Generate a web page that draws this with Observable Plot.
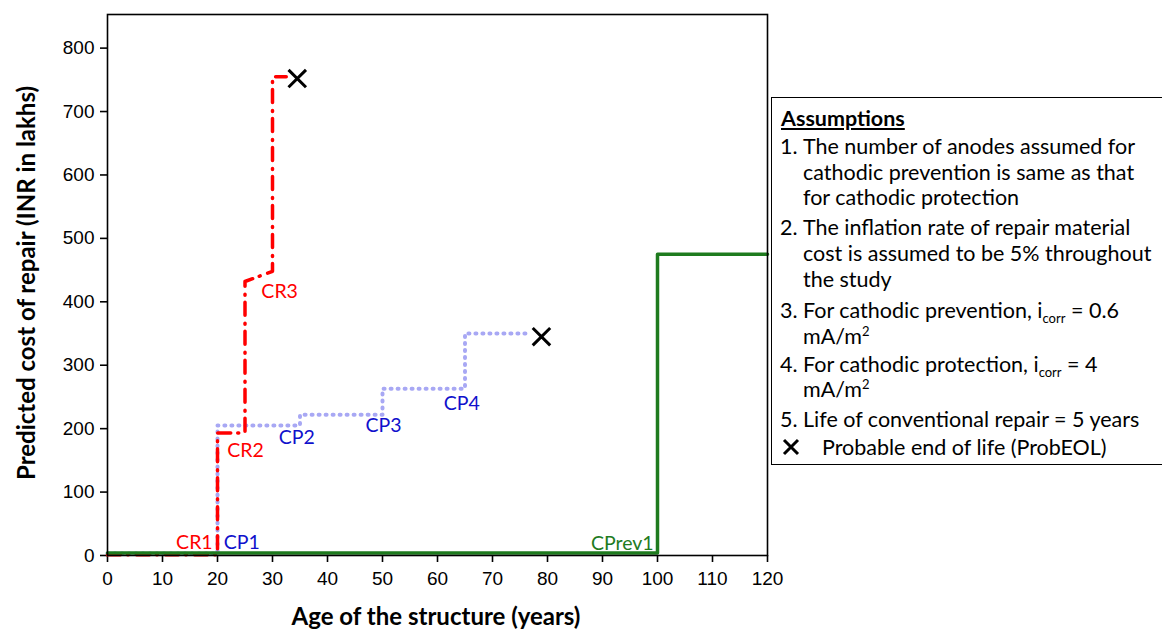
<!DOCTYPE html>
<html>
<head>
<meta charset="utf-8">
<script src="https://cdn.jsdelivr.net/npm/d3@7"></script>
<script src="https://cdn.jsdelivr.net/npm/@observablehq/plot@0.6"></script>
<style>
  html, body { margin: 0; padding: 0; background: #fff; }
  #wrap { position: relative; width: 1162px; height: 630px; overflow: hidden; }
  .ttl { position: absolute; font-family: Lato, "Open Sans", sans-serif; font-weight: bold; font-size: 24px; color: #000; white-space: nowrap; }
  #legend { position: absolute; left: 771px; top: 97px; width: 420px; height: 368px; border: 1px solid #000; background: #fff; box-sizing: border-box; }
  .ln { position: absolute; font-family: Lato, "Open Sans", sans-serif; font-size: 21.5px; line-height: 26px; height: 26px; white-space: nowrap; color: #000; }
  sub, sup { font-size: 13px; line-height: 0; }
</style>
</head>
<body>
<div id="wrap"></div>
<script>
// ---- data ----
const crYears = [0, 20, 20, 25, 25, 30, 30, 32.5];
const crCost  = [1, 1, 193, 193, 432, 448, 755, 755];

const cpYears = [0, 20, 20, 35, 35, 50, 50, 65, 65, 77];
const cpCost  = [3, 3, 205, 205, 222, 222, 263, 263, 350, 350];

const cprevYears = [0, 100, 100, 120];
const cprevCost  = [4, 4, 475, 475];

const eolYears = [34.5, 78.9];
const eolCost  = [752, 345];

const labelText  = ["CR1", "CP1", "CR2", "CP2", "CP3", "CP4", "CR3", "CPrev1"];
const labelYears = [15.8, 24.4, 25.1, 34.4, 50.2, 64.4, 31.3, 93.6];
const labelCost  = [20.5, 20.5, 165.6, 186, 205, 240, 416, 19];
const labelColor = ["#ff0000", "#1010cc", "#ff0000", "#1010cc", "#1010cc", "#1010cc", "#ff0000", "#1e7b1e"];

const xTicks = d3.range(0, 121, 10);
const yTicks = d3.range(0, 801, 100);

const legendLines = [
  {num: "", text: "<b><u>Assumptions</u></b>", y: 118},
  {num: "1.", text: "The number of anodes assumed for", y: 146},
  {num: "", text: "cathodic prevention is same as that", y: 172},
  {num: "", text: "for cathodic protection", y: 197},
  {num: "2.", text: "The inflation rate of repair material", y: 227},
  {num: "", text: "cost is assumed to be 5% throughout", y: 253},
  {num: "", text: "the study", y: 279},
  {num: "3.", text: "For cathodic prevention, i<sub>corr</sub> = 0.6", y: 310},
  {num: "", text: "mA/m<sup>2</sup>", y: 336},
  {num: "4.", text: "For cathodic protection, i<sub>corr</sub> = 4", y: 364},
  {num: "", text: "mA/m<sup>2</sup>", y: 389},
  {num: "5.", text: "Life of conventional repair = 5 years", y: 419},
  {num: "X", text: "Probable end of life (ProbEOL)", y: 447}
];

// ---- build tables ----
const cr = crYears.map((x, i) => ({x, y: crCost[i]}));
const cp = cpYears.map((x, i) => ({x, y: cpCost[i]}));
const cprev = cprevYears.map((x, i) => ({x, y: cprevCost[i]}));
const eol = eolYears.map((x, i) => ({x, y: eolCost[i]}));
const labels = labelText.map((t, i) => ({t, x: labelYears[i], y: labelCost[i], c: labelColor[i]}));

const chart = Plot.plot({
  width: 1162,
  height: 630,
  marginLeft: 107,
  marginRight: 395,
  marginTop: 14,
  marginBottom: 75,
  style: {fontFamily: "'Liberation Sans', Arial, sans-serif", fontSize: "19px", color: "#000", background: "transparent"},
  x: {domain: [0, 120], label: null},
  y: {domain: [0, 853], label: null},
  marks: [
    Plot.axisX({ticks: xTicks, tickSize: 7, tickPadding: 9, label: null, fontSize: 19, strokeWidth: 1.6}),
    Plot.axisY({ticks: yTicks, tickSize: 7, tickPadding: 6, label: null, fontSize: 19, strokeWidth: 1.6}),
    Plot.line(cp, {x: "x", y: "y", stroke: "#a8a8f4", strokeWidth: 4, strokeDasharray: "1,6"}),
    Plot.line(cr, {x: "x", y: "y", stroke: "#ff0000", strokeWidth: 3.5, strokeDasharray: "13,7,1,8"}),
    Plot.line(cprev, {x: "x", y: "y", stroke: "#1e7b1e", strokeWidth: 3.5}),
    Plot.dot(eol, {x: "x", y: "y", symbol: "times", r: 8, stroke: "#000", strokeWidth: 3}),
    Plot.text(labels, {x: "x", y: "y", text: "t", fill: "c", fontSize: 19.5, fontFamily: "Lato, 'Open Sans', sans-serif"}),
    Plot.frame({stroke: "#000", strokeWidth: 1.6})
  ]
});

// enlarge tick label font (axis groups)
chart.querySelectorAll('[aria-label*="axis"]').forEach(g => {
  g.setAttribute("font-size", "19");
  g.style.fontSize = "19px";
  g.querySelectorAll("text").forEach(t => { t.style.fontSize = "19px"; });
});

const wrap = document.getElementById("wrap");
chart.style.position = "absolute";
chart.style.left = "0px";
chart.style.top = "0px";
wrap.appendChild(chart);

// axis titles
const xt = document.createElement("div");
xt.className = "ttl";
xt.textContent = "Age of the structure (years)";
xt.style.left = "436px"; xt.style.top = "615px";
xt.style.transform = "translate(-50%, -50%)";
wrap.appendChild(xt);

const yt = document.createElement("div");
yt.className = "ttl";
yt.textContent = "Predicted cost of repair (INR in lakhs)";
yt.style.left = "25px"; yt.style.top = "283px";
yt.style.transform = "translate(-50%, -50%) rotate(-90deg)";
wrap.appendChild(yt);

// assumptions box
const lg = document.createElement("div");
lg.id = "legend";
wrap.appendChild(lg);
for (const l of legendLines) {
  if (l.num === "X") {
    const s = document.createElementNS("http://www.w3.org/2000/svg", "svg");
    s.setAttribute("width", 20); s.setAttribute("height", 20);
    s.style.position = "absolute"; s.style.left = "781px"; s.style.top = (l.y - 10) + "px";
    s.innerHTML = '<path d="M3,3L17,17M17,3L3,17" stroke="#000" stroke-width="3"/>';
    wrap.appendChild(s);
    const t = document.createElement("div");
    t.className = "ln"; t.innerHTML = l.text;
    t.style.left = "822px"; t.style.top = (l.y - 13) + "px";
    wrap.appendChild(t);
    continue;
  }
  if (l.num) {
    const n = document.createElement("div");
    n.className = "ln"; n.textContent = l.num;
    n.style.left = "780px"; n.style.top = (l.y - 13) + "px";
    wrap.appendChild(n);
  }
  const t = document.createElement("div");
  t.className = "ln"; t.innerHTML = l.text;
  t.style.left = (l.text.startsWith("<b>") ? 781 : 803) + "px";
  t.style.top = (l.y - 13) + "px";
  wrap.appendChild(t);
}
</script>
</body>
</html>
